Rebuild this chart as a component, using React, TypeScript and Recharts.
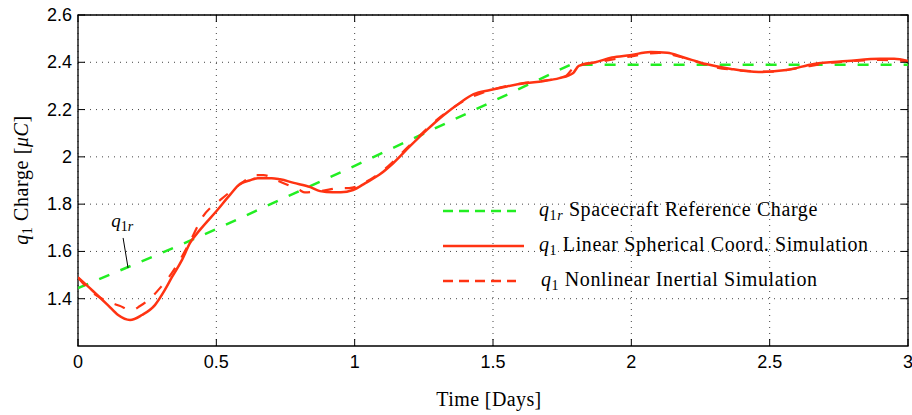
import React from 'react';
import { LineChart, Line, XAxis, YAxis, CartesianGrid, ReferenceArea, ReferenceLine, ReferenceDot, Legend } from 'recharts';

// ---- data ----
const refTime = [0, 0.37, 0.5, 1.0, 1.5, 1.78, 2.2, 2.6, 3.0];
const refCharge = [1.445, 1.627, 1.695, 1.962, 2.235, 2.39, 2.39, 2.39, 2.39];

const linTime = [0, 0.05, 0.108, 0.145, 0.188, 0.231, 0.278, 0.314, 0.34, 0.376, 0.405, 0.44, 0.5, 0.55, 0.585, 0.62, 0.65, 0.7, 0.73, 0.78, 0.84, 0.875, 0.92, 0.95, 0.994, 1.04, 1.09, 1.14, 1.2, 1.26, 1.32, 1.38, 1.43, 1.49, 1.55, 1.62, 1.68, 1.74, 1.79, 1.81, 1.87, 1.93, 1.995, 2.07, 2.13, 2.19, 2.27, 2.36, 2.46, 2.56, 2.66, 2.78, 2.9, 2.95, 3.0];
const linCharge = [1.49, 1.437, 1.373, 1.331, 1.31, 1.331, 1.373, 1.437, 1.492, 1.564, 1.636, 1.69, 1.77, 1.84, 1.885, 1.9, 1.91, 1.91, 1.905, 1.89, 1.872, 1.855, 1.85, 1.85, 1.86, 1.89, 1.925, 1.974, 2.045, 2.113, 2.175, 2.228, 2.265, 2.283, 2.298, 2.312, 2.32, 2.333, 2.355, 2.385, 2.4, 2.42, 2.43, 2.443, 2.44, 2.42, 2.393, 2.372, 2.359, 2.367, 2.393, 2.405, 2.415, 2.415, 2.405];

const nonTime = [0, 0.05, 0.087, 0.15, 0.195, 0.224, 0.26, 0.3, 0.34, 0.4, 0.45, 0.52, 0.59, 0.64, 0.67, 0.72, 0.8, 0.82, 0.88, 0.947, 0.98, 1.05, 1.1, 1.2, 1.3, 1.4, 1.5, 1.6, 1.7, 1.76, 1.8, 1.9, 2.0, 2.1, 2.2, 2.3, 2.4, 2.5, 2.6, 2.7, 2.8, 2.9, 3.0];
const nonCharge = [1.49, 1.428, 1.4, 1.37, 1.352, 1.369, 1.4, 1.45, 1.51, 1.63, 1.745, 1.823, 1.887, 1.923, 1.923, 1.9, 1.86, 1.85, 1.856, 1.868, 1.868, 1.9, 1.94, 2.05, 2.16, 2.24, 2.285, 2.31, 2.325, 2.34, 2.385, 2.405, 2.425, 2.44, 2.415, 2.38, 2.365, 2.36, 2.375, 2.395, 2.405, 2.41, 2.405];

const xTicks = [0, 0.5, 1, 1.5, 2, 2.5, 3];
const yTicks = [1.4, 1.6, 1.8, 2, 2.2, 2.4, 2.6];
const xDomain = [0, 3];
const yDomain = [1.2, 2.6];

const annotLine = [{ x: 0.163, y: 1.657 }, { x: 0.181, y: 1.53 }];
const annotText = { x: 0.16, y: 1.705 };

const refData = refTime.map((t, i) => ({ t, v: refCharge[i] }));
const linData = linTime.map((t, i) => ({ t, v: linCharge[i] }));
const nonData = nonTime.map((t, i) => ({ t, v: nonCharge[i] }));

// ---- style ----
const W = 912;
const H = 415;
const PLOT_W = 830;
const PLOT_H = 331;
const RED = '#ff3312';
const GREEN = '#22ee22';
const SANS = '"Liberation Sans", Arial, sans-serif';
const SERIF = '"Liberation Serif", "Times New Roman", serif';

const XTick = (p: any) => {
  const { x, y, payload } = p;
  return (
    <g>
      <line x1={x} y1={y} x2={x} y2={y - 7} stroke="#000" strokeWidth={1} />
      <line x1={x} y1={y - PLOT_H} x2={x} y2={y - PLOT_H + 7} stroke="#000" strokeWidth={1} />
      <text x={x} y={y + 22} textAnchor="middle" fontFamily={SANS} fontSize={18} fill="#000">
        {String(payload.value)}
      </text>
    </g>
  );
};

const YTick = (p: any) => {
  const { x, y, payload } = p;
  return (
    <g>
      <line x1={x} y1={y} x2={x + 7} y2={y} stroke="#000" strokeWidth={1} />
      <line x1={x + PLOT_W} y1={y} x2={x + PLOT_W - 7} y2={y} stroke="#000" strokeWidth={1} />
      <text x={x - 6} y={y + 6} textAnchor="end" fontFamily={SANS} fontSize={18} fill="#000">
        {String(payload.value)}
      </text>
    </g>
  );
};

const XLabel = (p: any) => {
  const vb = p.viewBox || { x: 78, y: 346, width: PLOT_W };
  return (
    <text x={vb.x + vb.width / 2 - 4} y={vb.y + 60} textAnchor="middle" fontFamily={SERIF} fontSize={20} letterSpacing={0.4} fill="#000">
      Time [Days]
    </text>
  );
};

const YLabel = () => (
  <text transform="translate(28,180) rotate(-90)" textAnchor="middle" fontFamily={SERIF} fontSize={20} letterSpacing={0.6} fill="#000">
    <tspan fontStyle="italic">q</tspan>
    <tspan fontSize={14} dy={4}>1</tspan>
    <tspan dy={-4}>  Charge [</tspan>
    <tspan fontStyle="italic">μC</tspan>
    <tspan>]</tspan>
  </text>
);

const AnnotShape = (p: any) => (
  <text x={p.cx} y={p.cy} textAnchor="middle" fontFamily={SERIF} fontSize={19} fill="#000">
    <tspan fontStyle="italic">q</tspan>
    <tspan fontSize={14} dy={4}>1</tspan>
    <tspan fontSize={14} fontStyle="italic">r</tspan>
  </text>
);

const legendRows = [
  { color: GREEN, dash: '10 6', len: 73, main: 'q', sub: '1', subIt: 'r', text: ' Spacecraft Reference Charge' },
  { color: RED, dash: undefined, len: 81, main: 'q', sub: '1', subIt: '', text: ' Linear Spherical Coord. Simulation' },
  { color: RED, dash: '10 6', len: 73, main: 'q', sub: '1', subIt: '', text: ' Nonlinear Inertial Simulation' },
];

const LegendContent = () => (
  <div style={{ position: 'relative', width: 460, height: 110 }}>
    {legendRows.map((r, i) => (
      <div key={i} style={{ position: 'absolute', left: 0, top: i * 35, height: 34, width: 460 }}>
        <svg width={86} height={34} style={{ position: 'absolute', left: 0, top: 0 }}>
          <line x1={3} y1={17} x2={3 + r.len} y2={17} stroke={r.color} strokeWidth={2.3} strokeDasharray={r.dash} />
        </svg>
        <div style={{ position: 'absolute', left: 99 + (i === 2 ? 2 : 0), top: 2, fontFamily: SERIF, fontSize: 20, letterSpacing: '0.6px', lineHeight: '26px', whiteSpace: 'nowrap', color: '#000' }}>
          <i>{r.main}</i>
          <sub style={{ fontSize: 14, verticalAlign: '-4px', lineHeight: 0 }}>
            {r.sub}
            {r.subIt ? <i>{r.subIt}</i> : null}
          </sub>
          {r.text}
        </div>
      </div>
    ))}
  </div>
);

export default function App() {
  return (
    <div style={{ position: 'absolute', left: 0, top: 0, width: W, height: H, background: '#fff' }}>
      <LineChart width={W} height={H} margin={{ top: 15, right: 4, bottom: 0, left: 0 }}>
        <CartesianGrid stroke="#444" strokeDasharray="1 5" horizontalValues={yTicks} verticalValues={xTicks} />
        <XAxis
          type="number"
          dataKey="t"
          domain={xDomain}
          ticks={xTicks}
          interval={0}
          allowDataOverflow
          height={69}
          tickSize={0}
          tickMargin={0}
          tickLine={false}
          axisLine={false}
          tick={(p: any) => <XTick {...p} />}
          label={{ content: (p: any) => <XLabel {...p} /> }}
        />
        <YAxis
          type="number"
          dataKey="v"
          domain={yDomain}
          ticks={yTicks}
          interval={0}
          allowDataOverflow
          width={78}
          tickSize={0}
          tickMargin={0}
          tickLine={false}
          axisLine={false}
          tick={(p: any) => <YTick {...p} />}
          label={{ content: () => <YLabel /> }}
        />
        <Legend
          layout="horizontal"
          verticalAlign="middle"
          align="center"
          wrapperStyle={{ position: 'absolute', left: 440, top: 194, width: 460, height: 110 }}
          content={() => <LegendContent />}
        />
        <Line data={refData} dataKey="v" type="linear" stroke={GREEN} strokeWidth={2.5} strokeDasharray="11 12" dot={false} isAnimationActive={false} />
        <Line data={nonData} dataKey="v" type="monotone" stroke={RED} strokeWidth={2.2} strokeDasharray="11 12" dot={false} isAnimationActive={false} />
        <Line data={linData} dataKey="v" type="monotone" stroke={RED} strokeWidth={2.5} dot={false} isAnimationActive={false} />
        <ReferenceLine segment={annotLine} stroke="#000" strokeWidth={1} />
        <ReferenceDot x={annotText.x} y={annotText.y} r={0} shape={(p: any) => <AnnotShape {...p} />} />
        <ReferenceArea x1={xDomain[0]} x2={xDomain[1]} y1={yDomain[0]} y2={yDomain[1]} fill="none" fillOpacity={0} stroke="#000" strokeWidth={1.3} />
      </LineChart>
    </div>
  );
}
